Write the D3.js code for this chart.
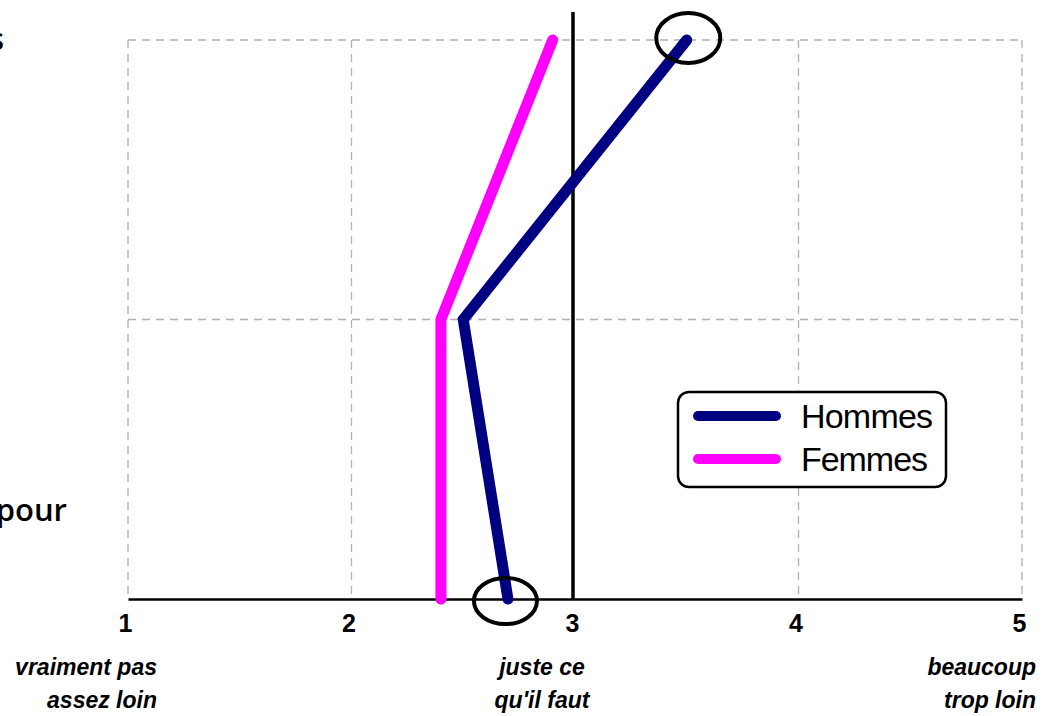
<!DOCTYPE html>
<html><head><meta charset="utf-8">
<script src="https://cdnjs.cloudflare.com/ajax/libs/d3/7.8.5/d3.min.js"></script>
<style>body{margin:0;background:#fff}svg{display:block}</style>
</head><body>
<svg id="c" width="1042" height="716"></svg>
<script>
const categories = ["Déplacements", "Loisirs", "Trajets pour"];
const hommes = [3.5, 2.5, 2.7];
const femmes = [2.9, 2.4, 2.4];
const xTicks = [1, 2, 3, 4, 5];
const anchorLabels = [
  {v: 1, lines: ["vraiment pas", "assez loin"]},
  {v: 3, lines: ["juste ce", "qu'il faut"]},
  {v: 5, lines: ["beaucoup", "trop loin"]}
];
const seriesNames = ["Hommes", "Femmes"];
const seriesColors = ["#000080", "#FF00FF"];
const highlighted = [{series: 0, cat: 0}, {series: 0, cat: 2}];

const svg = d3.select("#c");
const x = d3.scaleLinear().domain([1, 5]).range([128, 1022]);
const y = d3.scalePoint().domain(categories).range([40, 599]);
const narrow = "'Liberation Sans Narrow','Arial Narrow','Liberation Sans',Arial,sans-serif";

// grid
svg.append("g").selectAll("line.h").data(categories.slice(0, 2)).join("line")
  .attr("x1", x(1)).attr("x2", x(5)).attr("y1", d => y(d)).attr("y2", d => y(d))
  .attr("stroke", "#b0b0b0").attr("stroke-width", 1.3).attr("stroke-dasharray", "8,6");
svg.append("g").selectAll("line.v").data(xTicks.filter(v => v !== 3)).join("line")
  .attr("x1", d => x(d)).attr("x2", d => x(d)).attr("y1", y(categories[0])).attr("y2", y(categories[2]))
  .attr("stroke", "#b0b0b0").attr("stroke-width", 1.3).attr("stroke-dasharray", "8,6");

// reference line at 3
svg.append("line").attr("x1", x(3) - 2).attr("x2", x(3) - 2).attr("y1", 12).attr("y2", y(categories[2]))
  .attr("stroke", "#000").attr("stroke-width", 3.5);

// axis
const ax = svg.append("g").attr("transform", `translate(0,${y(categories[2])})`)
  .call(d3.axisBottom(x).tickValues(xTicks).tickSize(0).tickPadding(15).tickFormat(d3.format("d")));
ax.select(".domain").attr("stroke", "#000").attr("stroke-width", 2.5);
ax.selectAll("text").attr("font-family", narrow).attr("font-size", 25).attr("font-weight", "bold").attr("fill", "#000")
  .attr("dx", -3);

// anchor labels
const al = svg.append("g").selectAll("text").data(anchorLabels).join("text")
  .attr("font-family", narrow).attr("font-size", 23).attr("font-style", "italic").attr("font-weight", "bold")
  .attr("text-anchor", d => d.v === 1 ? "end" : d.v === 5 ? "end" : "middle")
  .attr("x", d => d.v === 1 ? x(1) + 29 : d.v === 5 ? x(5) + 14 : x(3) - 33);
al.selectAll("tspan").data(d => d.lines.map(l => ({l, d}))).join("tspan")
  .attr("x", function() { return d3.select(this.parentNode).attr("x"); })
  .attr("y", (d, i) => 675 + i * 33).text(d => d.l);

// category labels (cut off on the left, as in the source)
const catPos = [{x: 4, y: y(categories[0]) + 10}, null, {x: 67, y: 521}];
svg.append("g").selectAll("text").data(categories.filter((d, i) => catPos[i])).join("text")
  .attr("x", d => catPos[categories.indexOf(d)].x).attr("y", d => catPos[categories.indexOf(d)].y)
  .attr("text-anchor", "end").attr("font-family", "'Open Sans','DejaVu Sans',sans-serif")
  .attr("font-size", 31).attr("font-weight", "600").text(d => d);

// series lines
const line = d3.line().x(d => x(d.v)).y(d => y(d.c));
[hommes, femmes].forEach((vals, s) => {
  svg.append("path").datum(vals.map((v, i) => ({v, c: categories[i]})))
    .attr("d", line).attr("fill", "none").attr("stroke", seriesColors[s])
    .attr("stroke-width", 11).attr("stroke-linecap", "round").attr("stroke-linejoin", "miter");
});

// highlight ellipses
svg.append("g").selectAll("ellipse").data(highlighted).join("ellipse")
  .attr("cx", d => x([hommes, femmes][d.series][d.cat]) + (d.cat === 0 ? 1.5 : -2.5))
  .attr("cy", d => y(categories[d.cat]) + (d.cat === 0 ? -2 : 2))
  .attr("rx", d => d.cat === 0 ? 32 : 31.5).attr("ry", d => d.cat === 0 ? 25 : 23)
  .attr("fill", "none").attr("stroke", "#000").attr("stroke-width", 4);

// legend
const lg = svg.append("g");
lg.append("rect").attr("x", 678).attr("y", 392).attr("width", 268).attr("height", 95).attr("rx", 11)
  .attr("fill", "#fff").attr("stroke", "#000").attr("stroke-width", 2.5);
seriesNames.forEach((n, i) => {
  const yy = 416 + i * 43;
  lg.append("line").attr("x1", 698).attr("x2", 776).attr("y1", yy).attr("y2", yy)
    .attr("stroke", seriesColors[i]).attr("stroke-width", 10).attr("stroke-linecap", "round");
  lg.append("text").attr("x", 801).attr("y", yy + 12).attr("font-family", narrow)
    .attr("font-size", 34).attr("fill", "#000").attr("textLength", i === 0 ? 132 : 127).text(n);
});
</script>
</body></html>
